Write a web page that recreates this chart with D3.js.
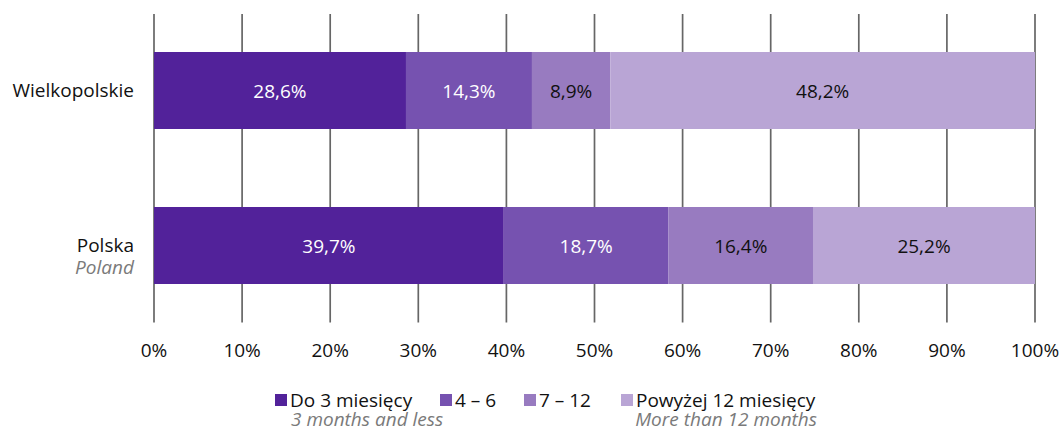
<!DOCTYPE html>
<html><head><meta charset="utf-8">
<script src="https://cdn.jsdelivr.net/npm/d3@7"></script>
<style>body{margin:0;background:#fff}svg{display:block}text{font-family:"Open Sans","Noto Sans",sans-serif}</style>
</head><body><svg id="c" width="1061" height="431"></svg>
<script>
const regions = ["Wielkopolskie", "Polska"];
const regionsEn = ["", "Poland"];
const seriesNames = ["Do 3 miesięcy", "4 – 6", "7 – 12", "Powyżej 12 miesięcy"];
const seriesEn = ["3 months and less", "", "", "More than 12 months"];
const upTo3 = [28.6, 39.7];
const m4to6 = [14.3, 18.7];
const m7to12 = [8.9, 16.4];
const over12 = [48.2, 25.2];
const ticks = [0,10,20,30,40,50,60,70,80,90,100];
const colors = ["#52229a", "#7652b0", "#987bc0", "#b9a5d5"];
const labelColors = ["#fff", "#fff", "#111", "#111"];
const FS = 19;

const svg = d3.select("#c");
const x = d3.scaleLinear().domain([0,100]).range([154,1035]);
const y = d3.scaleBand().domain(regions).range([52,284]).paddingInner(78/155).paddingOuter(0);

svg.append("g").selectAll("line").data(ticks).join("line")
  .attr("x1", d=>x(d)).attr("x2", d=>x(d)).attr("y1",14).attr("y2",322.5)
  .attr("stroke","#666").attr("stroke-width",1.7);

const series = [upTo3, m4to6, m7to12, over12];
regions.forEach((r,i)=>{
  let acc = 0;
  const yy = y(r), h = y.bandwidth(), cy = yy + h/2;
  series.forEach((s,j)=>{
    const v = s[i];
    svg.append("rect").attr("x", x(acc)).attr("y", yy).attr("width", x(acc+v)-x(acc)).attr("height", h)
      .attr("fill", colors[j]);
    svg.append("text").attr("x", (x(acc)+x(acc+v))/2).attr("y", cy + 7)
      .attr("text-anchor","middle").attr("font-size",FS).attr("fill",labelColors[j])
      .text(v.toFixed(1).replace(".",",")+"%");
    acc += v;
  });
  svg.append("text").attr("x",134).attr("y",cy+6.5).attr("text-anchor","end").attr("font-size",FS).attr("fill","#111").text(r);
  if (regionsEn[i]) {
    svg.append("text").attr("x",134).attr("y",cy+28.5).attr("text-anchor","end").attr("font-size",FS).attr("font-style","italic").attr("fill","#7a7a7a").text(regionsEn[i]);
  }
});

svg.append("g").selectAll("text").data(ticks).join("text")
  .attr("x", d=>x(d)).attr("y",357).attr("text-anchor","middle").attr("font-size",FS).attr("fill","#111")
  .text(d=>d+"%");

const legX = [275, 440, 524, 621];
seriesNames.forEach((n,j)=>{
  svg.append("rect").attr("x",legX[j]).attr("y",394).attr("width",12).attr("height",12).attr("fill",colors[j]);
  svg.append("text").attr("x",legX[j]+15).attr("y",406.5).attr("font-size",FS).attr("fill","#111").text(n);
});
svg.append("text").attr("x",291).attr("y",426).attr("font-size",FS).attr("font-style","italic").attr("fill","#7a7a7a").text(seriesEn[0]);
svg.append("text").attr("x",817).attr("y",426).attr("text-anchor","end").attr("font-size",FS).attr("font-style","italic").attr("fill","#7a7a7a").text(seriesEn[3]);
</script></body></html>
